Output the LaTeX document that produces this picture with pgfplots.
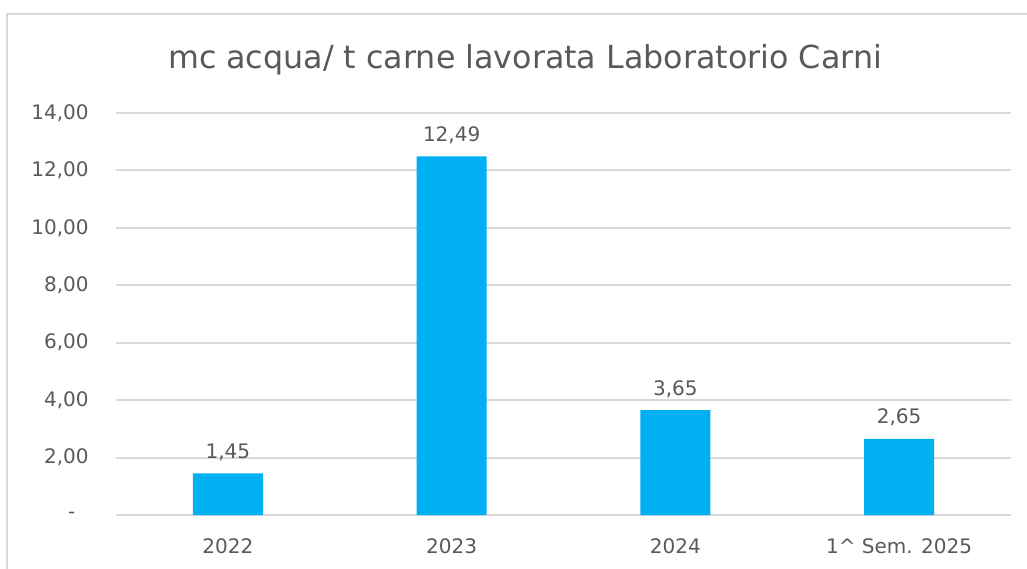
\documentclass[border=0pt]{standalone}
\usepackage{pgfplots}
\pgfplotsset{compat=1.18}
\usepackage{fontspec}
\setmainfont{DejaVu Sans}
\definecolor{barblue}{HTML}{00B0F0}
\definecolor{gridgray}{HTML}{D9D9D9}
\definecolor{txtgray}{HTML}{595959}
\begin{document}
\begin{tikzpicture}[x=0.75pt,y=0.75pt]
\useasboundingbox (0,0) rectangle (1027,568);
% chart area border (right and bottom are cut off in the reference)
\draw[gridgray, line width=1.5pt] (7,-20) -- (7,554) -- (1100,554);
\node[txtgray, font=\fontsize{23.8}{28}\selectfont] at (525,508) {mc acqua/ t carne lavorata Laboratorio Carni};
\begin{axis}[
    at={(87pt,39.75pt)}, anchor=south west,
    scale only axis,
    width=671.25pt, height=301.5pt,
    xmin=-0.5, xmax=3.5,
    ymin=0, ymax=14,
    ybar, bar width=52.5pt,
    xtick={0,1,2,3},
    xticklabels={2022,2023,2024,{1\textasciicircum{} Sem. 2025}},
    ytick={0,2,...,14},
    yticklabels={{-\hspace*{10pt}},{2,00},{4,00},{6,00},{8,00},{10,00},{12,00},{14,00}},
    ymajorgrids,
    grid style={gridgray, line width=1.5pt},
    axis line style={draw=none},
    tick style={draw=none},
    ticklabel style={txtgray, font=\fontsize{15}{18}\selectfont},
    yticklabel style={xshift=-17pt},
    xticklabel style={yshift=-10pt},
    nodes near coords,
    nodes near coords style={txtgray, font=\fontsize{15}{18}\selectfont, yshift=6pt,
        /pgf/number format/.cd, fixed, fixed zerofill, precision=2, use comma, assume math mode=true},
]
\addplot[fill=barblue, draw=none] coordinates {(0,1.45) (1,12.49) (2,3.65) (3,2.65)};
\end{axis}
\end{tikzpicture}
\end{document}
